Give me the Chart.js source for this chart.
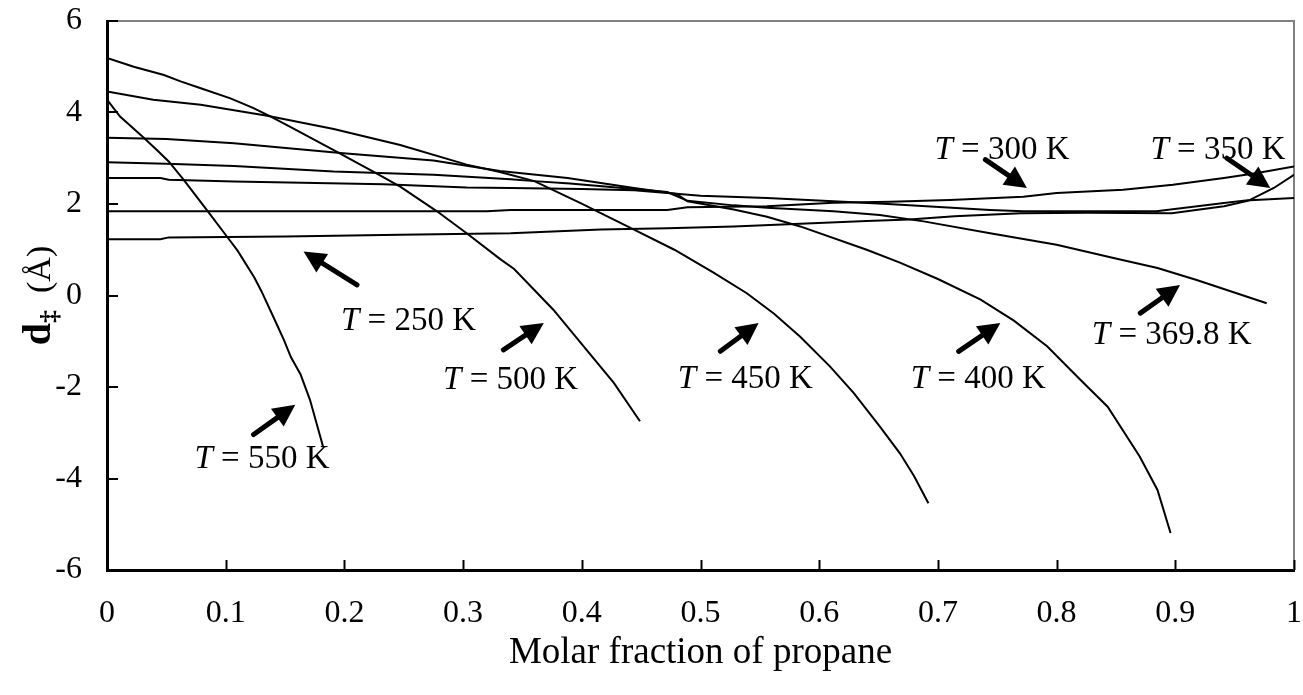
<!DOCTYPE html>
<html>
<head>
<meta charset="utf-8">
<script src="https://cdn.jsdelivr.net/npm/chart.js@4.4.1/dist/chart.umd.min.js"></script>
<style>
  html, body { margin: 0; padding: 0; background: #fff; }
  #wrap { width: 1303px; height: 695px; }
</style>
</head>
<body>
<div id="wrap"><canvas id="chart" width="1303" height="695"></canvas></div>
<script>
// curves: molar fraction of propane vs d‡ (Å)
const x250 = [0, 0.045, 0.052, 0.15, 0.247, 0.34, 0.416, 0.472, 0.528, 0.584, 0.64, 0.676, 0.714, 0.77, 0.826, 0.897, 0.941, 0.963, 1.0];
const y250 = [1.23, 1.23, 1.27, 1.29, 1.33, 1.36, 1.44, 1.47, 1.51, 1.57, 1.63, 1.66, 1.73, 1.80, 1.81, 1.80, 1.95, 2.08, 2.13];

const x300 = [0, 0.32, 0.34, 0.472, 0.489, 0.556, 0.612, 0.66, 0.71, 0.772, 0.8, 0.856, 0.898, 0.941, 0.969, 1.0];
const y300 = [1.84, 1.84, 1.87, 1.87, 1.93, 1.95, 2.03, 2.05, 2.09, 2.16, 2.24, 2.31, 2.42, 2.57, 2.68, 2.82];

const x350 = [0, 0.045, 0.052, 0.107, 0.233, 0.303, 0.34, 0.4, 0.444, 0.472, 0.5, 0.556, 0.612, 0.658, 0.744, 0.772, 0.884, 0.941, 0.963, 0.983, 1.0];
const y350 = [2.57, 2.57, 2.53, 2.49, 2.43, 2.36, 2.35, 2.33, 2.30, 2.24, 2.18, 2.13, 2.06, 2.0, 1.87, 1.84, 1.84, 2.02, 2.09, 2.35, 2.64];

const x370 = [0, 0.05, 0.107, 0.191, 0.275, 0.34, 0.36, 0.39, 0.444, 0.472, 0.489, 0.528, 0.556, 0.612, 0.651, 0.688, 0.744, 0.8, 0.848, 0.885, 0.918, 0.977];
const y370 = [2.91, 2.88, 2.83, 2.71, 2.64, 2.54, 2.50, 2.45, 2.33, 2.26, 2.07, 1.97, 1.92, 1.84, 1.76, 1.62, 1.36, 1.11, 0.82, 0.60, 0.34, -0.17];

const x400 = [0, 0.05, 0.107, 0.199, 0.275, 0.331, 0.388, 0.444, 0.48, 0.489, 0.528, 0.556, 0.584, 0.64, 0.668, 0.70, 0.736, 0.764, 0.792, 0.82, 0.843, 0.87, 0.885, 0.896];
const y400 = [3.45, 3.42, 3.33, 3.11, 2.95, 2.72, 2.57, 2.35, 2.22, 2.06, 1.88, 1.72, 1.51, 1.0, 0.72, 0.36, -0.09, -0.55, -1.11, -1.84, -2.43, -3.52, -4.25, -5.19];

const x450 = [0, 0.039, 0.079, 0.135, 0.191, 0.247, 0.303, 0.331, 0.36, 0.399, 0.444, 0.478, 0.511, 0.539, 0.562, 0.584, 0.609, 0.629, 0.651, 0.668, 0.68, 0.692];
const y450 = [4.46, 4.28, 4.17, 3.93, 3.64, 3.29, 2.86, 2.7, 2.5, 2.02, 1.44, 1.0, 0.5, 0.05, -0.4, -0.9, -1.55, -2.13, -2.86, -3.45, -3.95, -4.54];

const x500 = [0, 0.0225, 0.048, 0.062, 0.079, 0.104, 0.123, 0.138, 0.154, 0.191, 0.227, 0.247, 0.278, 0.303, 0.331, 0.343, 0.376, 0.404, 0.427, 0.449];
const y500 = [5.19, 5.0, 4.82, 4.68, 4.53, 4.31, 4.10, 3.91, 3.69, 3.18, 2.67, 2.38, 1.84, 1.36, 0.8, 0.58, -0.31, -1.19, -1.91, -2.75];

const x550 = [0, 0.011, 0.031, 0.042, 0.052, 0.064, 0.084, 0.101, 0.11, 0.124, 0.13, 0.14, 0.149, 0.155, 0.163, 0.171, 0.182];
const y550 = [4.28, 3.91, 3.45, 3.18, 2.93, 2.55, 1.87, 1.29, 0.98, 0.4, 0.1, -0.46, -0.97, -1.35, -1.72, -2.28, -3.30];

const xTicks = [0, 0.1, 0.2, 0.3, 0.4, 0.5, 0.6, 0.7, 0.8, 0.9, 1];
const xTickLabels = ['0', '0.1', '0.2', '0.3', '0.4', '0.5', '0.6', '0.7', '0.8', '0.9', '1'];
const yTicks = [-6, -4, -2, 0, 2, 4, 6];
const yTickLabels = ['-6', '-4', '-2', '0', '2', '4', '6'];

// temperature labels and their arrows (data units)
const tempNames = ['250', '300', '350', '369.8', '400', '450', '500', '550'];
const tempTextX = [0.254, 0.754, 0.936, 0.897, 0.734, 0.5378, 0.340, 0.1306];
const tempTextY = [-0.57, 3.18, 3.18, -0.88, -1.84, -1.84, -1.85, -3.59];
const arrowFromX = [0.2106, 0.74, 0.9435, 0.8705, 0.7175, 0.5167, 0.334, 0.1235];
const arrowFromY = [0.23, 2.97, 3.0, -0.385, -1.22, -1.22, -1.19, -3.04];
const arrowToX = [0.1656, 0.775, 0.98, 0.904, 0.7526, 0.549, 0.368, 0.1586];
const arrowToY = [0.96, 2.35, 2.35, 0.23, -0.60, -0.60, -0.60, -2.39];

const SERIF = '"Liberation Serif", "Times New Roman", serif';

const pts = (xs, ys) => xs.map((x, i) => ({ x, y: ys[i] }));
const curve = (xs, ys) => ({
  data: pts(xs, ys),
  showLine: true,
  borderColor: '#000',
  borderWidth: 2,
  pointRadius: 0,
  tension: 0,
  fill: false,
});

// keep chart.js from reserving extra room for the outer tick labels
const noEdgePad = (s) => {
  s.paddingTop = 0;
  s.paddingBottom = 0;
  s.paddingLeft = 0;
  s.paddingRight = 0;
};

const frame = {
  id: 'frame',
  beforeDatasetsDraw(chart) {
    const { ctx, chartArea: a } = chart;
    ctx.save();
    ctx.strokeStyle = '#808080';
    ctx.lineWidth = 2;
    ctx.beginPath();
    ctx.moveTo(a.left, a.top);
    ctx.lineTo(a.right, a.top);
    ctx.lineTo(a.right, a.bottom);
    ctx.stroke();
    ctx.restore();
  },
  afterDraw(chart) {
    const { ctx, chartArea: a, scales } = chart;
    ctx.save();
    ctx.strokeStyle = '#000';
    ctx.lineWidth = 2;
    // inward tick marks
    xTicks.forEach((v) => {
      const px = Math.round(scales.x.getPixelForValue(v)) + 0.5;
      ctx.beginPath();
      ctx.moveTo(px, a.bottom);
      ctx.lineTo(px, a.bottom - 10);
      ctx.stroke();
    });
    yTicks.forEach((v) => {
      const py = Math.round(scales.y.getPixelForValue(v));
      ctx.beginPath();
      ctx.moveTo(a.left, py);
      ctx.lineTo(a.left + 11, py);
      ctx.stroke();
    });

    // temperature labels
    ctx.fillStyle = '#000';
    ctx.textBaseline = 'middle';
    tempNames.forEach((name, i) => {
      const cx = scales.x.getPixelForValue(tempTextX[i]);
      const cy = scales.y.getPixelForValue(tempTextY[i]);
      const italic = 'italic 33px ' + SERIF;
      const normal = '33px ' + SERIF;
      ctx.font = italic;
      const w1 = ctx.measureText('T').width;
      ctx.font = normal;
      const rest = ' = ' + name + ' K';
      const w2 = ctx.measureText(rest).width;
      const x0 = cx - (w1 + w2) / 2;
      ctx.font = italic;
      ctx.fillText('T', x0, cy);
      ctx.font = normal;
      ctx.fillText(rest, x0 + w1, cy);

      // arrow
      const x1 = scales.x.getPixelForValue(arrowFromX[i]);
      const y1 = scales.y.getPixelForValue(arrowFromY[i]);
      const x2 = scales.x.getPixelForValue(arrowToX[i]);
      const y2 = scales.y.getPixelForValue(arrowToY[i]);
      const ang = Math.atan2(y2 - y1, x2 - x1);
      const head = 22, half = 11;
      const bx = x2 - head * Math.cos(ang), by = y2 - head * Math.sin(ang);
      ctx.lineWidth = 5;
      ctx.lineCap = 'round';
      ctx.beginPath();
      ctx.moveTo(x1, y1);
      ctx.lineTo(bx, by);
      ctx.stroke();
      ctx.beginPath();
      ctx.moveTo(x2, y2);
      ctx.lineTo(bx + half * Math.sin(ang), by - half * Math.cos(ang));
      ctx.lineTo(bx - half * Math.sin(ang), by + half * Math.cos(ang));
      ctx.closePath();
      ctx.fill();
    });

    // y axis title: d‡ (Å)
    const midY = (a.top + a.bottom) / 2;
    ctx.translate(50, midY);
    ctx.rotate(-Math.PI / 2);
    ctx.textBaseline = 'alphabetic';
    const fB = 'bold 40px ' + SERIF, fS = 'bold 26px ' + SERIF, fR = '34px ' + SERIF;
    ctx.font = fB; const wd = ctx.measureText('d').width;
    ctx.font = fS; const ws = ctx.measureText('\u2021').width;
    ctx.font = fR; const wr = ctx.measureText('  (\u00C5)').width;
    let tx = -(wd + ws + wr) / 2;
    ctx.font = fB; ctx.fillText('d', tx, 0); tx += wd;
    ctx.font = fS; ctx.fillText('\u2021', tx, 8); tx += ws;
    ctx.font = fR; ctx.fillText('  (\u00C5)', tx, 0);
    ctx.restore();
  },
};

new Chart(document.getElementById('chart').getContext('2d'), {
  type: 'scatter',
  data: {
    datasets: [
      curve(x250, y250),
      curve(x300, y300),
      curve(x350, y350),
      curve(x370, y370),
      curve(x400, y400),
      curve(x450, y450),
      curve(x500, y500),
      curve(x550, y550),
    ],
  },
  options: {
    responsive: false,
    animation: false,
    layout: { padding: { top: 21, right: 9, left: 0, bottom: 0 } },
    plugins: {
      legend: { display: false },
      tooltip: { enabled: false },
    },
    scales: {
      x: {
        type: 'linear',
        min: 0,
        max: 1,
        afterBuildTicks: (s) => { s.ticks = xTicks.map((v) => ({ value: v })); },
        afterFit: (s) => { s.height = 125; noEdgePad(s); },
        ticks: {
          callback: (v, i) => xTickLabels[i],
          color: '#000',
          font: { family: SERIF, size: 32 },
          padding: 24,
          maxRotation: 0,
          autoSkip: false,
        },
        grid: { display: false, drawTicks: false },
        border: { display: true, color: '#000', width: 3 },
        title: {
          display: true,
          text: 'Molar fraction of propane',
          color: '#000',
          font: { family: SERIF, size: 37 },
          padding: { top: 0, bottom: 20 },
        },
      },
      y: {
        type: 'linear',
        min: -6,
        max: 6,
        afterBuildTicks: (s) => { s.ticks = yTicks.map((v) => ({ value: v })); },
        afterFit: (s) => { s.width = 107; noEdgePad(s); },
        ticks: {
          callback: (v, i) => yTickLabels[i],
          color: '#000',
          font: { family: SERIF, size: 32 },
          padding: 25,
          autoSkip: false,
        },
        grid: { display: false, drawTicks: false },
        border: { display: true, color: '#000', width: 3 },
      },
    },
  },
  plugins: [frame],
});
</script>
</body>
</html>
